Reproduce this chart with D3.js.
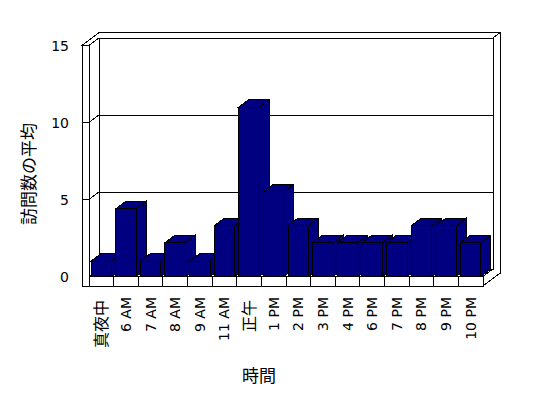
<!DOCTYPE html>
<html>
<head>
<meta charset="utf-8">
<script src="https://cdn.jsdelivr.net/npm/d3@7"></script>
<style>
  body { margin: 0; background: #fff; }
  svg { display: block; }
  text { font-family: "DejaVu Sans", "Noto Sans CJK JP", sans-serif; fill: #000; }
</style>
</head>
<body>
<div id="container"></div>
<script>
const WIDTH = 548;
const HEIGHT = 398;

// front plane of the plot
const FRONT = { LEFT: 89, RIGHT: 483, TOP: 45.5, BOTTOM: 276.5 };
const DEPTH = { X: 10, Y: 7.5 };   // offset front plane -> back wall
const WALL = 0.7;                  // wall thickness, in depth units
const LEFTWALL = 7;                // left wall width on screen
const FLOOR = 9.5;                 // floor thickness on screen
const BAR_COLOR = '#000080';

const categories = ['真夜中', '6 AM', '7 AM', '8 AM', '9 AM', '11 AM', '正午', '1 PM',
                    '2 PM', '3 PM', '4 PM', '6 PM', '7 PM', '8 PM', '9 PM', '10 PM'];
const visits = [1, 4.4, 1, 2.2, 1, 3.3, 11, 5.5, 3.3, 2.2, 2.2, 2.2, 2.2, 3.3, 3.3, 2.2];
const yTicks = [0, 5, 10, 15];
const yTitle = '訪問数の平均';
const xTitle = '時間';

const xscale = d3.scaleBand()
                 .domain(categories)
                 .range([FRONT.LEFT, FRONT.RIGHT])
                 .paddingInner(0.17)
                 .paddingOuter(0.085);
const yscale = d3.scaleLinear()
                 .domain([0, 15])
                 .range([FRONT.BOTTOM, FRONT.TOP]);

// screen point for front-plane (x, y) pushed back by depth d (1 = back wall)
const P = (x, y, d) => [x + d * DEPTH.X, y - d * DEPTH.Y];
const poly = pts => pts.map(p => p.join(',')).join(' ');

const svg = d3.select('#container')
              .append('svg')
                .attr('width', WIDTH)
                .attr('height', HEIGHT)
                .attr('shape-rendering', 'crispEdges');

const walls = svg.append('g')
                 .attr('fill', '#fff')
                 .attr('stroke', '#000')
                 .attr('stroke-width', 1);

const L = FRONT.LEFT, R = FRONT.RIGHT, T = FRONT.TOP, B = FRONT.BOTTOM;
const D2 = 1 + WALL;

// back wall + floor right side faces
walls.append('polygon')
     .attr('points', poly([P(R, T, 1), P(R, T, D2), P(R, B, D2), P(R, B + FLOOR, D2),
                           [R, B + FLOOR], [R, B], P(R, B, 1)]));
// back wall front face
walls.append('polygon')
     .attr('points', poly([P(L, T, 1), P(R, T, 1), P(R, B, 1), P(L, B, 1)]));
// left wall inner face
walls.append('polygon')
     .attr('points', poly([[L, T], P(L, T, 1), P(L, B, 1), [L, B]]));
// tops of left and back walls
walls.append('polygon')
     .attr('points', poly([[L - LEFTWALL, T], [L, T], P(L, T, 1), P(R, T, 1),
                           P(R, T, D2), P(L - LEFTWALL, T, D2)]));
// floor top
walls.append('polygon')
     .attr('points', poly([[L, B], [R, B], P(R, B, 1), P(L, B, 1)]));
// floor front and left wall front
walls.append('rect')
     .attr('x', L)
     .attr('y', B)
     .attr('width', R - L)
     .attr('height', FLOOR);
walls.append('rect')
     .attr('x', L - LEFTWALL)
     .attr('y', T)
     .attr('width', LEFTWALL)
     .attr('height', B + FLOOR - T);

// gridlines: left wall front tick, left wall face, back wall
const grid = svg.append('g')
                .attr('fill', 'none')
                .attr('stroke', '#000');
grid.selectAll('polyline')
    .data(yTicks.filter(d => d > 0 && d < 15))
    .enter()
    .append('polyline')
      .attr('points', d => poly([[L - LEFTWALL, yscale(d)], [L, yscale(d)],
                                 P(L, yscale(d), 1), P(R, yscale(d), 1)]));

// category tick marks on floor front
grid.selectAll('line')
    .data(categories.slice(1))
    .enter()
    .append('line')
      .attr('x1', d => xscale(d) - xscale.step() * xscale.paddingInner() / 2)
      .attr('x2', d => xscale(d) - xscale.step() * xscale.paddingInner() / 2)
      .attr('y1', B)
      .attr('y2', B + FLOOR);

// bars
const bw = xscale.bandwidth();
const bars = svg.append('g')
                .selectAll('g')
                .data(categories.map((c, i) => ({ cat: c, value: visits[i] })))
                .enter()
                .append('g')
                  .attr('fill', BAR_COLOR)
                  .attr('stroke', '#000');

bars.append('polygon')
    .attr('points', d => {
        const x = xscale(d.cat), y = yscale(d.value);
        return poly([[x + bw, y], P(x + bw, y, 1), P(x + bw, B, 1), [x + bw, B]]);
    });
bars.append('polygon')
    .attr('points', d => {
        const x = xscale(d.cat), y = yscale(d.value);
        return poly([[x, y], [x + bw, y], P(x + bw, y, 1), P(x, y, 1)]);
    });
bars.append('rect')
    .attr('x', d => xscale(d.cat))
    .attr('y', d => yscale(d.value))
    .attr('width', bw)
    .attr('height', d => B - yscale(d.value));

// y tick labels
svg.append('g')
   .selectAll('text')
   .data(yTicks)
   .enter()
   .append('text')
     .attr('x', 69)
     .attr('y', d => yscale(d))
     .attr('dy', '0.36em')
     .attr('text-anchor', 'end')
     .attr('font-size', 14)
     .text(d => d);

// category labels, rotated
const isCJK = s => /[^\x00-\x7f]/.test(s);
svg.append('g')
   .selectAll('text')
   .data(categories)
   .enter()
   .append('text')
     .attr('transform', d => `translate(${xscale(d) + bw / 2}, ${isCJK(d) ? 300 : 297}) rotate(-90)`)
     .attr('dy', '0.36em')
     .attr('text-anchor', 'end')
     .attr('font-size', d => isCJK(d) ? 16 : 14)
     .text(d => d);

// axis titles
svg.append('text')
   .attr('transform', 'translate(29, 174) rotate(-90)')
   .attr('dy', '0.36em')
   .attr('text-anchor', 'middle')
   .attr('font-size', 17)
   .text(yTitle);

svg.append('text')
   .attr('x', 259)
   .attr('y', 376)
   .attr('dy', '0.36em')
   .attr('text-anchor', 'middle')
   .attr('font-size', 17)
   .text(xTitle);
</script>
</body>
</html>
